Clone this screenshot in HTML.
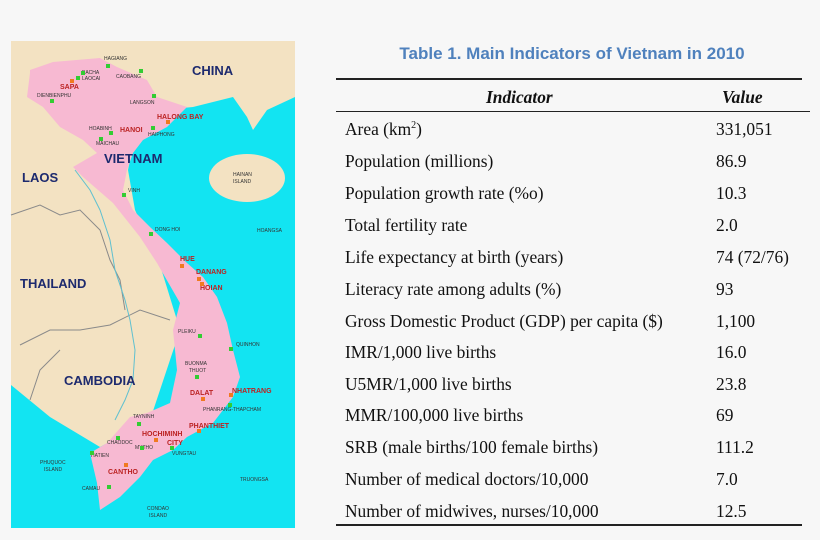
<!DOCTYPE html>
<html><head><meta charset="utf-8"><style>
html,body{margin:0;padding:0;background:#f7f7f7;width:820px;height:540px;overflow:hidden;position:relative}
.t{position:absolute;font-family:"Liberation Serif",serif;font-size:17.4px;color:#111;white-space:nowrap}
.v{left:716px}
.l{left:345px}
.rule{position:absolute;background:#222}
</style></head><body>
<svg style="position:absolute;left:0;top:0" width="310" height="540" viewBox="0 0 310 540">
<rect x="11" y="41" width="284" height="487" fill="#f3e2c2"/>
<polygon fill="#12e4f2" points="140,112 193,107 233,97 247,117 253,130 267,110 295,97 295,528 11,528 11,385 50,417 100,447 150,420 180,330 160,265 135,210 128,170"/>
<ellipse cx="247" cy="178" rx="38" ry="24" fill="#f3e2c2"/>
<polygon fill="#f7b9d2" points="30,70 53,62 100,58 117,67 147,80 157,97 187,107 167,127 143,140 133,153 127,170 123,190 133,210 150,227 167,243 187,263 203,277 217,297 227,323 233,350 240,377 233,397 213,423 187,437 173,450 153,460 140,477 120,497 100,510 97,483 90,453 107,443 130,417 147,413 170,403 177,370 173,330 180,303 157,263 140,237 113,203 83,177 73,167 97,153 83,140 60,127 43,107 27,97 30,73"/>
<g fill="none" stroke="#8a8a8a" stroke-width="1">
<polyline points="11,215 40,205 60,215 80,210 100,230 110,260 120,280 125,310"/>
<polyline points="20,345 50,330 80,330 110,325 140,310 170,320"/>
<polyline points="30,400 40,370 60,350"/>
</g>
<g fill="none" stroke="#5fc0d0" stroke-width="1">
<polyline points="75,170 90,190 100,210 110,240 115,270 125,300 130,320 135,350 133,380 125,400 115,420"/>
</g>
<g font-family="Liberation Sans,sans-serif" font-weight="bold" fill="#1d2a6e">
<text x="192" y="75" font-size="13">CHINA</text>
<text x="104" y="163" font-size="13">VIETNAM</text>
<text x="22" y="182" font-size="13">LAOS</text>
<text x="20" y="288" font-size="13">THAILAND</text>
<text x="64" y="385" font-size="13">CAMBODIA</text>
</g>
<g font-family="Liberation Sans,sans-serif" font-weight="bold" fill="#b22" font-size="7">
<text x="60" y="89">SAPA</text><text x="157" y="119">HALONG BAY</text><text x="120" y="132">HANOI</text>
<text x="180" y="261">HUE</text><text x="196" y="274">DANANG</text><text x="200" y="290">HOIAN</text>
<text x="190" y="395">DALAT</text><text x="232" y="393">NHATRANG</text><text x="189" y="428">PHANTHIET</text>
<text x="142" y="436">HOCHIMINH</text><text x="167" y="445">CITY</text><text x="108" y="474">CANTHO</text>
</g>
<g font-family="Liberation Sans,sans-serif" fill="#333" font-size="5">
<text x="104" y="60">HAGIANG</text><text x="82" y="74">BACHA</text><text x="82" y="80">LAOCAI</text><text x="116" y="78">CAOBANG</text>
<text x="37" y="97">DIENBIENPHU</text><text x="130" y="104">LANGSON</text><text x="148" y="136">HAIPHONG</text><text x="89" y="130">HOABINH</text>
<text x="96" y="145">MAICHAU</text><text x="233" y="176">HAINAN</text><text x="233" y="183">ISLAND</text><text x="128" y="192">VINH</text>
<text x="155" y="231">DONG HOI</text><text x="257" y="232">HOANGSA</text><text x="178" y="333">PLEIKU</text><text x="236" y="346">QUINHON</text>
<text x="185" y="365">BUONMA</text><text x="189" y="372">THUOT</text><text x="203" y="411">PHANRANG-THAPCHAM</text><text x="133" y="418">TAYNINH</text>
<text x="107" y="444">CHAODOC</text><text x="135" y="449">MYTHO</text><text x="172" y="455">VUNGTAU</text><text x="91" y="457">HATIEN</text>
<text x="40" y="464">PHUQUOC</text><text x="44" y="471">ISLAND</text><text x="82" y="490">CAMAU</text><text x="240" y="481">TRUONGSA</text>
<text x="147" y="510">CONDAO</text><text x="149" y="517">ISLAND</text>
</g>
<g fill="#3c3">
<rect x="106" y="64" width="4" height="4"/><rect x="139" y="69" width="4" height="4"/><rect x="81" y="71" width="4" height="4"/><rect x="76" y="76" width="4" height="4"/>
<rect x="50" y="99" width="4" height="4"/><rect x="152" y="94" width="4" height="4"/><rect x="151" y="126" width="4" height="4"/><rect x="109" y="131" width="4" height="4"/>
<rect x="99" y="137" width="4" height="4"/><rect x="122" y="193" width="4" height="4"/><rect x="149" y="232" width="4" height="4"/><rect x="198" y="334" width="4" height="4"/>
<rect x="229" y="347" width="4" height="4"/><rect x="195" y="375" width="4" height="4"/><rect x="228" y="403" width="4" height="4"/><rect x="137" y="422" width="4" height="4"/>
<rect x="116" y="436" width="4" height="4"/><rect x="140" y="446" width="4" height="4"/><rect x="170" y="446" width="4" height="4"/><rect x="90" y="451" width="4" height="4"/><rect x="107" y="485" width="4" height="4"/>
</g>
<g fill="#f07a20">
<rect x="70" y="79" width="4" height="4"/><rect x="166" y="120" width="4" height="4"/><rect x="180" y="264" width="4" height="4"/><rect x="197" y="277" width="4" height="4"/>
<rect x="200" y="282" width="4" height="4"/><rect x="201" y="397" width="4" height="4"/><rect x="229" y="393" width="4" height="4"/><rect x="197" y="429" width="4" height="4"/>
<rect x="154" y="438" width="4" height="4"/><rect x="124" y="463" width="4" height="4"/>
</g>
</svg>
<div style="position:absolute;left:336px;top:44px;width:472px;text-align:center;font-family:'Liberation Sans',sans-serif;font-weight:bold;font-size:17px;color:#4f81bd">Table 1. Main Indicators of Vietnam in 2010</div>
<div class="rule" style="left:336px;top:78px;width:466px;height:1.5px"></div>
<div class="rule" style="left:336px;top:111px;width:474px;height:1px"></div>
<div class="rule" style="left:336px;top:524px;width:466px;height:1.5px"></div>
<div class="t" style="left:486px;top:87px;font-weight:bold;font-style:italic">Indicator</div>
<div class="t" style="left:722px;top:87px;font-weight:bold;font-style:italic">Value</div>
<div class="t l" style="top:119px">Area (km<sup style="font-size:10px">2</sup>)</div><div class="t v" style="top:119px">331,051</div>
<div class="t l" style="top:151px">Population (millions)</div><div class="t v" style="top:151px">86.9</div>
<div class="t l" style="top:183px">Population growth rate (%o)</div><div class="t v" style="top:183px">10.3</div>
<div class="t l" style="top:215px">Total fertility rate</div><div class="t v" style="top:215px">2.0</div>
<div class="t l" style="top:247px">Life expectancy at birth (years)</div><div class="t v" style="top:247px">74 (72/76)</div>
<div class="t l" style="top:279px">Literacy rate among adults (%)</div><div class="t v" style="top:279px">93</div>
<div class="t l" style="top:311px">Gross Domestic Product (GDP) per capita ($)</div><div class="t v" style="top:311px">1,100</div>
<div class="t l" style="top:342px">IMR/1,000 live births</div><div class="t v" style="top:342px">16.0</div>
<div class="t l" style="top:374px">U5MR/1,000 live births</div><div class="t v" style="top:374px">23.8</div>
<div class="t l" style="top:405px">MMR/100,000 live births</div><div class="t v" style="top:405px">69</div>
<div class="t l" style="top:437px">SRB (male births/100 female births)</div><div class="t v" style="top:437px">111.2</div>
<div class="t l" style="top:469px">Number of medical doctors/10,000</div><div class="t v" style="top:469px">7.0</div>
<div class="t l" style="top:501px">Number of midwives, nurses/10,000</div><div class="t v" style="top:501px">12.5</div>
</body></html>
